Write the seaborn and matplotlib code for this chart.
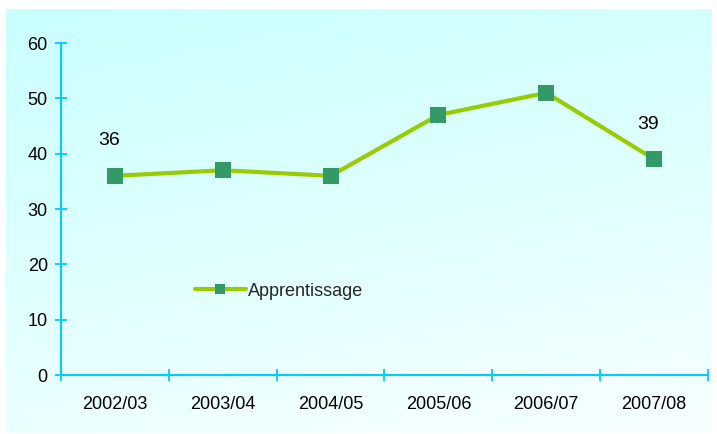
import numpy as np
import pandas as pd
import matplotlib
matplotlib.use("Agg")
import matplotlib.pyplot as plt
import seaborn as sns
from matplotlib.colors import LinearSegmentedColormap

categories = ["2002/03", "2003/04", "2004/05", "2005/06", "2006/07", "2007/08"]
values = [36, 37, 36, 47, 51, 39]
series_name = "Apprentissage"
labelled = {0: "36", 5: "39"}
y_ticks = [0, 10, 20, 30, 40, 50, 60]

sns.set_style("white")
plt.rcParams["font.family"] = ["Liberation Sans", "DejaVu Sans"]

W, H = 717, 434
fig = plt.figure(figsize=(W / 100, H / 100), dpi=100)
fig.patch.set_facecolor("white")

# background gradient panel
bg = fig.add_axes([6 / W, 1 - 433 / H, (712 - 6) / W, (433 - 9) / H], zorder=0)
yy, xx = np.mgrid[0:1:200j, 0:1:200j]
grad = 0.75 * yy + 0.25 * xx
cmap = LinearSegmentedColormap.from_list("bgc", ["#c9ffff", "#f7ffff"])
bg.imshow(grad, cmap=cmap, aspect="auto", extent=[0, 1, 1, 0])
bg.set_axis_off()

left, right, bottom, top = 61, 708, 375, 43
ax = fig.add_axes([left / W, 1 - bottom / H, (right - left) / W, (bottom - top) / H], zorder=1)
ax.patch.set_alpha(0)

df = pd.DataFrame({"period": categories, "value": values})
sns.lineplot(data=df, x="period", y="value", ax=ax, color="#99cc00", linewidth=3,
             marker="s", markersize=11.5, markerfacecolor="#339966",
             markeredgecolor="#339966", markeredgewidth=0, label=series_name, sort=False)

for i, txt in labelled.items():
    ax.annotate(txt, (i, values[i]), xytext=(-4, 19), textcoords="offset points",
                ha="center", va="bottom", fontsize=14, color="black")

ax.set_xlim(-0.5, len(categories) - 0.5)
ax.set_ylim(0, 60)
ax.set_yticks(y_ticks)
ax.set_xticks(range(len(categories)))
ax.set_xticklabels(categories)
ax.set_xticks(np.arange(-0.5, len(categories), 1.0), minor=True)
ax.tick_params(bottom=True, left=True, which="both")
ax.tick_params(axis="x", which="major", length=0, pad=15, labelsize=13, colors="black")
ax.tick_params(axis="x", which="minor", length=9, width=1.3, direction="inout", color="#00ccff")
ax.tick_params(axis="y", which="major", length=9, width=1.3, direction="inout",
               color="#00ccff", labelsize=13, labelcolor="black", pad=5)
ax.set_xlabel("")
ax.set_ylabel("")
for s in ["top", "right"]:
    ax.spines[s].set_visible(False)
for s in ["left", "bottom"]:
    ax.spines[s].set_color("#00ccff")
    ax.spines[s].set_linewidth(1.5)

leg = ax.legend(loc="center left", bbox_to_anchor=((195 - left) / (right - left), (bottom - 291) / (bottom - top)),
                frameon=False, fontsize=13, handlelength=2.8, handletextpad=0.15,
                borderaxespad=0, borderpad=0, markerscale=0.65)

fig.savefig("out.png", dpi=100)
